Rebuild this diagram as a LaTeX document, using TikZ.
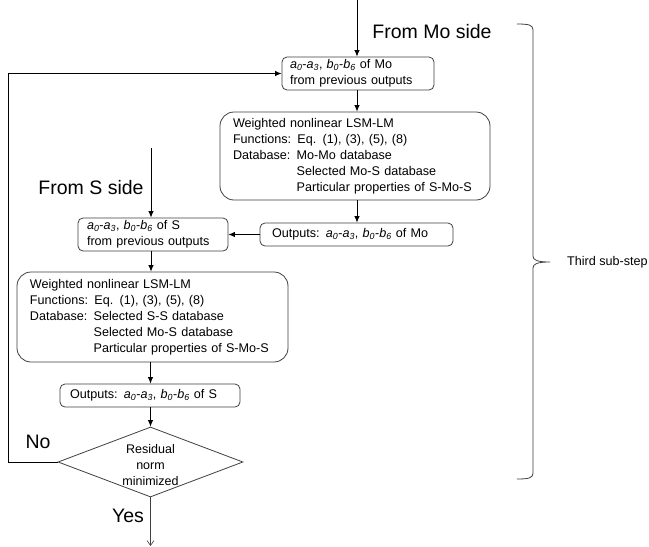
\documentclass[tikz,border=0pt]{standalone}
\usepackage{fontspec}
\setmainfont{Liberation Sans}
\usetikzlibrary{arrows.meta,shapes.geometric}
\newcommand{\coefs}{\textit{a}\textsubscript{\textit{0}}-\textit{a}\textsubscript{\textit{3}}, \textit{b}\textsubscript{\textit{0}}-\textit{b}\textsubscript{\textit{6}}}
\definecolor{boxline}{HTML}{404040}
\tikzset{
  boxtext/.style={font=\fontsize{12.6}{16}\selectfont},
  smallbox/.style={boxtext, draw=boxline, line width=0.8pt, rounded corners=5pt, align=left, inner ysep=1pt},
  bigbox/.style={boxtext, draw=boxline, line width=0.8pt, rounded corners=14pt, align=left, inner ysep=1pt},
  arr/.style={line width=0.9pt, -{Latex[length=6.5pt,width=5.5pt]}},
  barb/.style={line width=0.6pt, draw=boxline, -{Straight Barb[length=5pt,width=7pt]}},
  biglabel/.style={font=\fontsize{19.5}{22}\selectfont},
  bracestyle/.style={line width=0.8pt, draw=boxline},
}
\begin{document}
\begin{tikzpicture}[x=1pt,y=-1pt]
\useasboundingbox[fill=white] (0,0) rectangle (649,547);

% boxes
\node[smallbox, text width=136pt, inner xsep=8pt, minimum height=33pt] (box1) at (358,73.5)
  {\mbox{\coefs{} of Mo}\\\mbox{from previous outputs}};
\node[bigbox, text width=244pt, inner xsep=13pt, minimum height=88pt] (box2) at (355,156)
  {\mbox{Weighted nonlinear LSM-LM}\\
   \mbox{Functions: Eq. (1), (3), (5), (8)}\\
   \mbox{Database: Mo-Mo database}\\
   \mbox{\hphantom{Database: }Selected Mo-S database}\\
   \mbox{\hphantom{Database: }Particular properties of S-Mo-S}};
\node[smallbox, text width=169pt, inner xsep=12pt, minimum height=23pt] (box3) at (356.5,234.5)
  {\mbox{Outputs: \coefs{} of Mo}};
\node[smallbox, text width=132pt, inner xsep=9pt, minimum height=33pt] (box4) at (153,234.5)
  {\mbox{\coefs{} of S}\\\mbox{from previous outputs}};
\node[bigbox, text width=245pt, inner xsep=13pt, minimum height=90pt] (box5) at (152.5,317)
  {\mbox{Weighted nonlinear LSM-LM}\\
   \mbox{Functions: Eq. (1), (3), (5), (8)}\\
   \mbox{Database: Selected S-S database}\\
   \mbox{\hphantom{Database: }Selected Mo-S database}\\
   \mbox{\hphantom{Database: }Particular properties of S-Mo-S}};
\node[smallbox, text width=160pt, inner xsep=10pt, minimum height=23pt] (box6) at (150,395.5)
  {\mbox{Outputs: \coefs{} of S}};
\node[diamond, draw=boxline, line width=0.8pt, minimum width=185pt, minimum height=70pt, inner sep=0pt] (dec) at (150.5,462)
  {\smash{\makebox[0pt]{\raisebox{-7pt}{\fontsize{12.5}{16}\selectfont\begin{tabular}{@{}c@{}}Residual\\norm\\minimized\end{tabular}}}}};

% labels
\node[biglabel] (lmo) at (432,32) {From Mo side};
\node[biglabel] (ls) at (91,188) {From S side};
\node[biglabel] (lno) at (38,442) {No};
\node[biglabel] (lyes) at (128,516) {Yes};
\node[boxtext, anchor=west, inner sep=0pt] (lthird) at (567,262) {Third sub-step};

% coordinates
\coordinate (moin) at (357,0);
\coordinate (sin) at (151,148);
\coordinate (loopc) at (8,462);
\coordinate (yesend) at (150.5,546);

% connectors
\draw[arr] (moin) -- (moin |- box1.north);
\draw[arr] (box1.south -| moin) -- (moin |- box2.north);
\draw[arr] (box2.south -| moin) -- (moin |- box3.north);
\draw[arr] (box3.west) -- (box4.east);
\draw[arr] (sin) -- (sin |- box4.north);
\draw[arr] (box4.south -| sin) -- (sin |- box5.north);
\draw[arr] (box5.south -| dec.north) -- (dec.north |- box6.north);
\draw[arr] (box6.south -| dec.north) -- (dec.north);
\draw[arr] (dec.west) -- (loopc) |- (box1.west);
\draw[barb] (dec.south) -- (yesend);

% brace
\draw[bracestyle] (517,24) .. controls (529,24) and (533,25) .. (533,30) -- (533,256)
  .. controls (533,260) and (537,262) .. (550,262)
  .. controls (537,262) and (533,264) .. (533,268) -- (533,473)
  .. controls (533,478) and (529,479) .. (517,479);
\end{tikzpicture}
\end{document}
